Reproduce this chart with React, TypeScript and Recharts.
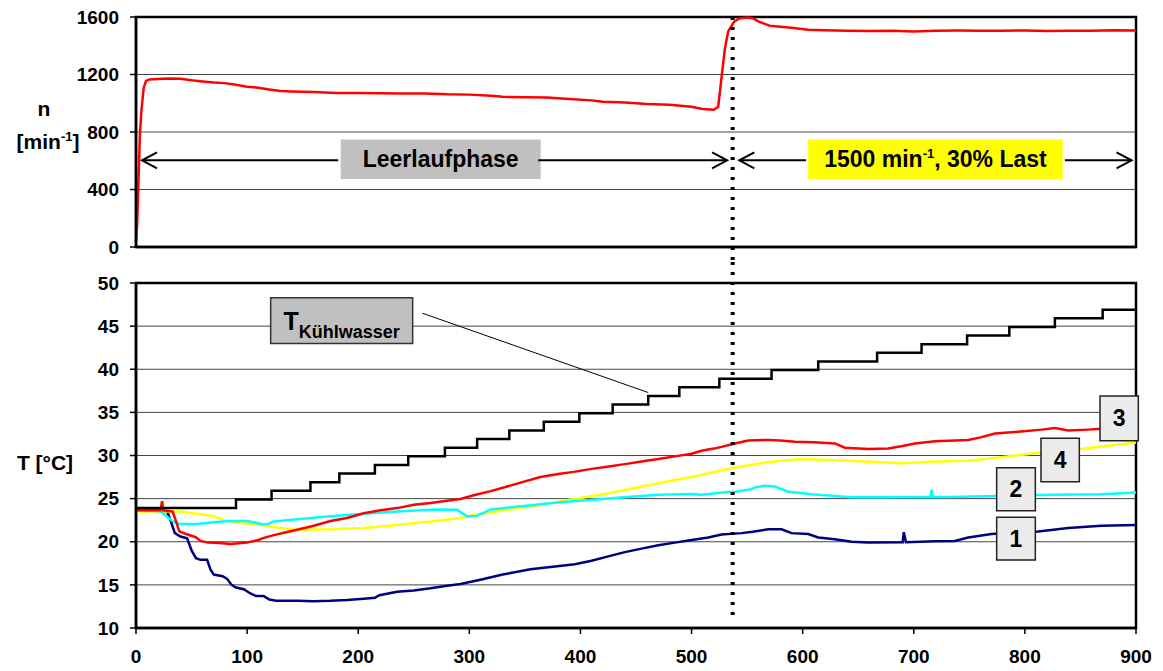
import {
  LineChart,
  Line,
  XAxis,
  YAxis,
  CartesianGrid,
  ReferenceArea,
  ReferenceLine,
} from "recharts";

const FONT = '"Liberation Sans", Arial, sans-serif';

const X_TICKS = [0, 100, 200, 300, 400, 500, 600, 700, 800, 900];
const N_TICKS = [0, 400, 800, 1200, 1600];
const T_TICKS = [10, 15, 20, 25, 30, 35, 40, 45, 50];

// engine speed n [min-1] vs. time
const speed = [
  [0, 40], [1, 150], [2, 400], [3.5, 780], [5, 960], [7, 1110], [9, 1155], [12, 1165],
  [20, 1168], [30, 1172], [40, 1170], [50, 1160], [60, 1152], [70, 1145], [80, 1140],
  [90, 1128], [100, 1115], [110, 1108], [120, 1095], [130, 1085], [140, 1082], [160, 1078],
  [180, 1072], [200, 1072], [220, 1070], [240, 1068], [260, 1068], [280, 1062], [300, 1060],
  [320, 1052], [330, 1045], [350, 1042], [370, 1040], [390, 1030], [410, 1020], [420, 1010],
  [440, 1005], [460, 995], [480, 990], [500, 975], [510, 960], [520, 955], [524, 975],
  [527, 1180], [530, 1380], [533, 1500], [538, 1565], [543, 1590], [550, 1597], [555, 1592],
  [560, 1570], [570, 1540], [580, 1532], [590, 1525], [605, 1512], [620, 1508], [640, 1505],
  [660, 1502], [680, 1505], [700, 1500], [720, 1505], [740, 1506], [760, 1504], [780, 1505],
  [800, 1506], [820, 1503], [840, 1505], [860, 1504], [880, 1508], [900, 1506],
];

// cooling water temperature: staircase
const coolantStepTimes = [
  0, 90, 122, 157, 183, 215, 245, 278, 307, 336, 367, 399, 429, 461, 489, 525, 572, 614,
  667, 707, 748, 786, 827, 870,
];
const coolantLevels = [
  23.9, 24.9, 25.9, 26.9, 27.9, 28.9, 29.9, 30.9, 31.9, 32.9, 33.9, 34.9, 35.9, 36.9, 37.9,
  38.9, 39.9, 40.9, 41.9, 42.9, 43.9, 44.9, 45.9, 46.9,
];

// measuring point 1 (navy)
const sensor1 = [
  [0, 23.6], [15, 23.6], [28, 23.5], [31, 22.5], [35, 21.0], [40, 20.6], [46, 20.4], [50, 19.0],
  [54, 18.1], [58, 17.9], [64, 17.9], [67, 16.8], [70, 16.2], [78, 16.0], [82, 15.7], [86, 15.0],
  [90, 14.7], [97, 14.5], [103, 14.0], [108, 13.7], [115, 13.7], [120, 13.3], [126, 13.15],
  [145, 13.15], [160, 13.1], [175, 13.15], [190, 13.25], [205, 13.4], [215, 13.5], [219, 13.8],
  [235, 14.2], [250, 14.35], [265, 14.6], [280, 14.9], [292, 15.1], [310, 15.6], [330, 16.2],
  [355, 16.8], [375, 17.1], [395, 17.4], [410, 17.8], [425, 18.3], [440, 18.8], [455, 19.2],
  [470, 19.6], [485, 19.9], [500, 20.2], [515, 20.5], [527, 20.85], [545, 21.0], [555, 21.15],
  [569, 21.45], [581, 21.45], [590, 21.0], [605, 20.9], [614, 20.5], [629, 20.3], [644, 20.0],
  [659, 19.9], [690, 19.95], [691, 21.1], [693, 19.95], [719, 20.05], [737, 20.1], [749, 20.5],
  [770, 20.9], [812, 21.2], [839, 21.6], [869, 21.85], [900, 21.95],
];

// measuring point 2 (cyan)
const sensor2 = [
  [0, 23.65], [22, 23.55], [28, 22.9], [34, 22.3], [40, 22.05], [55, 22.05], [70, 22.25],
  [85, 22.4], [100, 22.4], [110, 22.15], [115, 22.0], [120, 22.1], [124, 22.35], [145, 22.6],
  [175, 22.95], [205, 23.25], [235, 23.5], [265, 23.72], [274, 23.75], [289, 23.7], [298, 22.95],
  [307, 23.0], [319, 23.75], [349, 24.15], [379, 24.55], [409, 24.85], [439, 25.15], [470, 25.45],
  [500, 25.55], [509, 25.45], [530, 25.75], [539, 25.8], [554, 26.1], [557, 26.3], [566, 26.5],
  [575, 26.4], [587, 25.8], [608, 25.5], [629, 25.3], [644, 25.15], [674, 25.15], [701, 25.2],
  [715, 25.2], [716, 26.05], [717, 25.2], [734, 25.2], [773, 25.3], [824, 25.45], [869, 25.5],
  [900, 25.7],
];

// measuring point 3 (red)
const sensor3 = [
  [0, 23.65], [22, 23.65], [23.5, 24.7], [24.5, 23.65], [33, 23.5], [36, 22.4], [39, 21.2],
  [45, 20.9], [50, 20.7], [54, 20.5], [58, 20.1], [65, 19.9], [75, 19.85], [85, 19.75],
  [100, 19.9], [110, 20.2], [115, 20.45], [125, 20.8], [135, 21.1], [145, 21.4], [160, 21.85],
  [175, 22.4], [190, 22.75], [205, 23.3], [220, 23.65], [235, 23.9], [250, 24.3], [265, 24.5],
  [280, 24.75], [292, 24.95], [304, 25.4], [320, 25.9], [334, 26.4], [350, 27.0], [364, 27.5],
  [380, 27.85], [394, 28.1], [410, 28.45], [424, 28.7], [440, 29.0], [455, 29.3], [470, 29.6],
  [485, 29.9], [500, 30.2], [509, 30.55], [520, 30.8], [527, 31.0], [539, 31.4], [551, 31.75],
  [570, 31.8], [580, 31.75], [593, 31.6], [610, 31.55], [629, 31.4], [638, 30.9], [659, 30.75],
  [677, 30.8], [690, 31.1], [701, 31.4], [719, 31.65], [749, 31.8], [760, 32.1], [773, 32.55],
  [794, 32.75], [815, 33.0], [827, 33.2], [839, 32.9], [857, 33.0], [869, 33.1], [900, 33.3],
];

// measuring point 4 (yellow)
const sensor4 = [
  [0, 23.5], [20, 23.5], [40, 23.5], [55, 23.25], [70, 22.95], [79, 22.5], [94, 22.2],
  [115, 21.9], [130, 21.6], [145, 21.4], [175, 21.45], [205, 21.6], [235, 21.95], [265, 22.35],
  [292, 22.75], [304, 23.1], [334, 23.7], [364, 24.25], [394, 24.95], [424, 25.6], [455, 26.4],
  [485, 27.15], [509, 27.75], [515, 27.95], [539, 28.6], [569, 29.25], [599, 29.6], [629, 29.45],
  [659, 29.3], [689, 29.1], [719, 29.3], [749, 29.4], [779, 29.8], [809, 30.25], [854, 30.8],
  [878, 31.2], [900, 31.5],
];

const PHASE_SWITCH = 537;

const toPts = (rows: number[][]) => rows.map(([t, v]) => ({ t, v }));

const coolant = [
  ...coolantStepTimes.map((t, i) => ({ t, v: coolantLevels[i] })),
  { t: 900, v: coolantLevels[coolantLevels.length - 1] },
];

const tickStyle = { fill: "#000", fontSize: 19, fontWeight: 700, fontFamily: FONT };
const axisLine = { stroke: "#000", strokeWidth: 2.5 };
const tickLine = { stroke: "#000", strokeWidth: 1.5 };

function arrowShape(head: "start" | "end") {
  return (p: any) => {
    const { x1, y1, x2, y2 } = p;
    const [tx, ty, bx, by] = head === "start" ? [x1, y1, x2, y2] : [x2, y2, x1, y1];
    const len = Math.hypot(tx - bx, ty - by) || 1;
    const ux = (tx - bx) / len;
    const uy = (ty - by) / len;
    const ax = tx - ux * 15;
    const ay = ty - uy * 15;
    return (
      <g>
        <line x1={x1} y1={y1} x2={x2} y2={y2} stroke="#000" strokeWidth={2} />
        <polyline
          points={`${ax - uy * 8},${ay + ux * 8} ${tx},${ty} ${ax + uy * 8},${ay - ux * 8}`}
          fill="none"
          stroke="#000"
          strokeWidth={2}
        />
      </g>
    );
  };
}

function boxText(text: string, size = 23) {
  return ({ viewBox }: any) => (
    <text
      x={viewBox.x + viewBox.width / 2}
      y={viewBox.y + viewBox.height / 2}
      textAnchor="middle"
      dominantBaseline="central"
      fontSize={size}
      fontWeight={700}
      fontFamily={FONT}
      fill="#000"
    >
      {text}
    </text>
  );
}

const loadText = ({ viewBox }: any) => (
  <text
    x={viewBox.x + viewBox.width / 2}
    y={viewBox.y + viewBox.height / 2 + 8}
    textAnchor="middle"
    fontSize={23}
    fontWeight={700}
    fontFamily={FONT}
    fill="#000"
  >
    1500 min
    <tspan dy={-9} fontSize={13}>
      -1
    </tspan>
    <tspan dy={9}>, 30% Last</tspan>
  </text>
);

const coolantText = ({ viewBox }: any) => (
  <text
    x={viewBox.x + viewBox.width / 2}
    y={viewBox.y + 32}
    textAnchor="middle"
    fontWeight={700}
    fontFamily={FONT}
    fill="#000"
  >
    <tspan fontSize={25}>T</tspan>
    <tspan fontSize={18} dy={8}>
      Kühlwasser
    </tspan>
  </text>
);

const speedTitle = ({ viewBox }: any) => {
  const cx = viewBox.x - 40;
  return (
    <g fontFamily={FONT} fontWeight={700} fontSize={21} fill="#000">
      <text x={cx - 2} y={viewBox.y + 99} textAnchor="middle">
        n
      </text>
      <text x={cx + 2} y={viewBox.y + 132} textAnchor="middle">
        [min
        <tspan dy={-8} fontSize={13}>
          -1
        </tspan>
        <tspan dy={8}>]</tspan>
      </text>
    </g>
  );
};

const tempTitle = ({ viewBox }: any) => (
  <text
    x={viewBox.x - 41}
    y={viewBox.y + viewBox.height / 2 + 7}
    textAnchor="middle"
    dominantBaseline="central"
    fontFamily={FONT}
    fontWeight={700}
    fontSize={21}
    fill="#000"
  >
    T [°C]
  </text>
);

const margin = { top: 17, right: 27, bottom: 3, left: 86 };

export default function App() {
  return (
    <div
      style={{
        position: "absolute",
        left: 0,
        top: 0,
        width: 1163,
        height: 671,
        background: "#fff",
        fontFamily: FONT,
      }}
    >
      <LineChart width={1163} height={260} margin={margin}>
        <CartesianGrid vertical={false} stroke="#444" strokeWidth={1} />
        <XAxis
          type="number"
          dataKey="t"
          domain={[0, 900]}
          ticks={X_TICKS}
          height={10}
          tick={false}
          tickSize={6}
          axisLine={axisLine}
          tickLine={tickLine}
        />
        <YAxis
          type="number"
          domain={[0, 1600]}
          ticks={N_TICKS}
          width={50}
          tickSize={6}
          tickMargin={11}
          tick={tickStyle}
          axisLine={axisLine}
          tickLine={tickLine}
          label={{ content: speedTitle }}
        />
        <Line
          data={toPts(speed)}
          dataKey="v"
          type="linear"
          stroke="#ff0000"
          strokeWidth={2.5}
          dot={false}
          activeDot={false}
          isAnimationActive={false}
        />
        <ReferenceArea x1={0} x2={900} y1={0} y2={1600} fill="none" stroke="#000" strokeWidth={2.5} ifOverflow="visible" />
        <ReferenceLine
          segment={[{ x: 5.4, y: 603 }, { x: 182, y: 603 }]}
          shape={arrowShape("start")}
          ifOverflow="visible"
        />
        <ReferenceLine
          segment={[{ x: 362, y: 603 }, { x: 532, y: 603 }]}
          shape={arrowShape("end")}
          ifOverflow="visible"
        />
        <ReferenceLine
          segment={[{ x: 543, y: 603 }, { x: 603, y: 603 }]}
          shape={arrowShape("start")}
          ifOverflow="visible"
        />
        <ReferenceLine
          segment={[{ x: 836, y: 603 }, { x: 896, y: 603 }]}
          shape={arrowShape("end")}
          ifOverflow="visible"
        />
        <ReferenceArea
          x1={184.2}
          x2={364.2}
          y1={473}
          y2={747}
          fill="#c0c0c0"
          fillOpacity={1}
          stroke="none"
          ifOverflow="visible"
          label={boxText("Leerlaufphase")}
        />
        <ReferenceArea
          x1={605}
          x2={834}
          y1={473}
          y2={747}
          fill="#ffff00"
          fillOpacity={1}
          stroke="none"
          ifOverflow="visible"
          label={loadText}
        />
        <ReferenceLine
          segment={[{ x: PHASE_SWITCH, y: 1600 }, { x: PHASE_SWITCH, y: -120 }]}
          stroke="#000"
          strokeWidth={4}
          strokeDasharray="3 7"
          ifOverflow="visible"
        />
      </LineChart>

      <LineChart width={1163} height={411} margin={{ ...margin, top: 23 }}>
        <CartesianGrid vertical={false} stroke="#444" strokeWidth={1} />
        <XAxis
          type="number"
          dataKey="t"
          domain={[0, 900]}
          ticks={X_TICKS}
          height={40}
          tickSize={6}
          tickMargin={16}
          tick={tickStyle}
          axisLine={axisLine}
          tickLine={tickLine}
        />
        <YAxis
          type="number"
          domain={[10, 50]}
          ticks={T_TICKS}
          width={50}
          tickSize={6}
          tickMargin={11}
          tick={tickStyle}
          axisLine={axisLine}
          tickLine={tickLine}
          label={{ content: tempTitle }}
        />
        <Line data={toPts(sensor1)} dataKey="v" type="linear" stroke="#000080" strokeWidth={2.5} dot={false} activeDot={false} isAnimationActive={false} />
        <Line data={toPts(sensor4)} dataKey="v" type="linear" stroke="#ffff00" strokeWidth={2.5} dot={false} activeDot={false} isAnimationActive={false} />
        <Line data={toPts(sensor2)} dataKey="v" type="linear" stroke="#00ffff" strokeWidth={2.5} dot={false} activeDot={false} isAnimationActive={false} />
        <Line data={toPts(sensor3)} dataKey="v" type="linear" stroke="#ff0000" strokeWidth={2.5} dot={false} activeDot={false} isAnimationActive={false} />
        <Line data={coolant} dataKey="v" type="stepAfter" stroke="#000" strokeWidth={2.5} dot={false} activeDot={false} isAnimationActive={false} />
        <ReferenceArea x1={0} x2={900} y1={10} y2={50} fill="none" stroke="#000" strokeWidth={2.5} ifOverflow="visible" />
        <ReferenceLine
          segment={[{ x: 257.7, y: 46.5 }, { x: 461, y: 37.3 }]}
          stroke="#000"
          strokeWidth={1}
          ifOverflow="visible"
        />
        <ReferenceArea
          x1={121.2}
          x2={249}
          y1={43}
          y2={48.3}
          fill="#c0c0c0"
          fillOpacity={1}
          stroke="#333"
          strokeWidth={1.5}
          ifOverflow="visible"
          zIndex={1500}
          label={coolantText}
        />
        <ReferenceArea x1={867.6} x2={902.1} y1={31.72} y2={36.9} fill="#ebebeb" fillOpacity={1} stroke="#222" strokeWidth={1.5} ifOverflow="visible" zIndex={1500} label={boxText("3")} />
        <ReferenceArea x1={814.5} x2={849} y1={26.96} y2={32.0} fill="#ebebeb" fillOpacity={1} stroke="#222" strokeWidth={1.5} ifOverflow="visible" zIndex={1500} label={boxText("4")} />
        <ReferenceArea x1={774.6} x2={809.4} y1={23.6} y2={28.59} fill="#ebebeb" fillOpacity={1} stroke="#222" strokeWidth={1.5} ifOverflow="visible" zIndex={1500} label={boxText("2")} />
        <ReferenceArea x1={774.6} x2={809.4} y1={17.88} y2={22.83} fill="#ebebeb" fillOpacity={1} stroke="#222" strokeWidth={1.5} ifOverflow="visible" zIndex={1500} label={boxText("1")} />
        <ReferenceLine
          segment={[{ x: PHASE_SWITCH, y: 11.5 }, { x: PHASE_SWITCH, y: 53 }]}
          stroke="#000"
          strokeWidth={4}
          strokeDasharray="3 7"
          ifOverflow="visible"
        />
      </LineChart>
    </div>
  );
}
